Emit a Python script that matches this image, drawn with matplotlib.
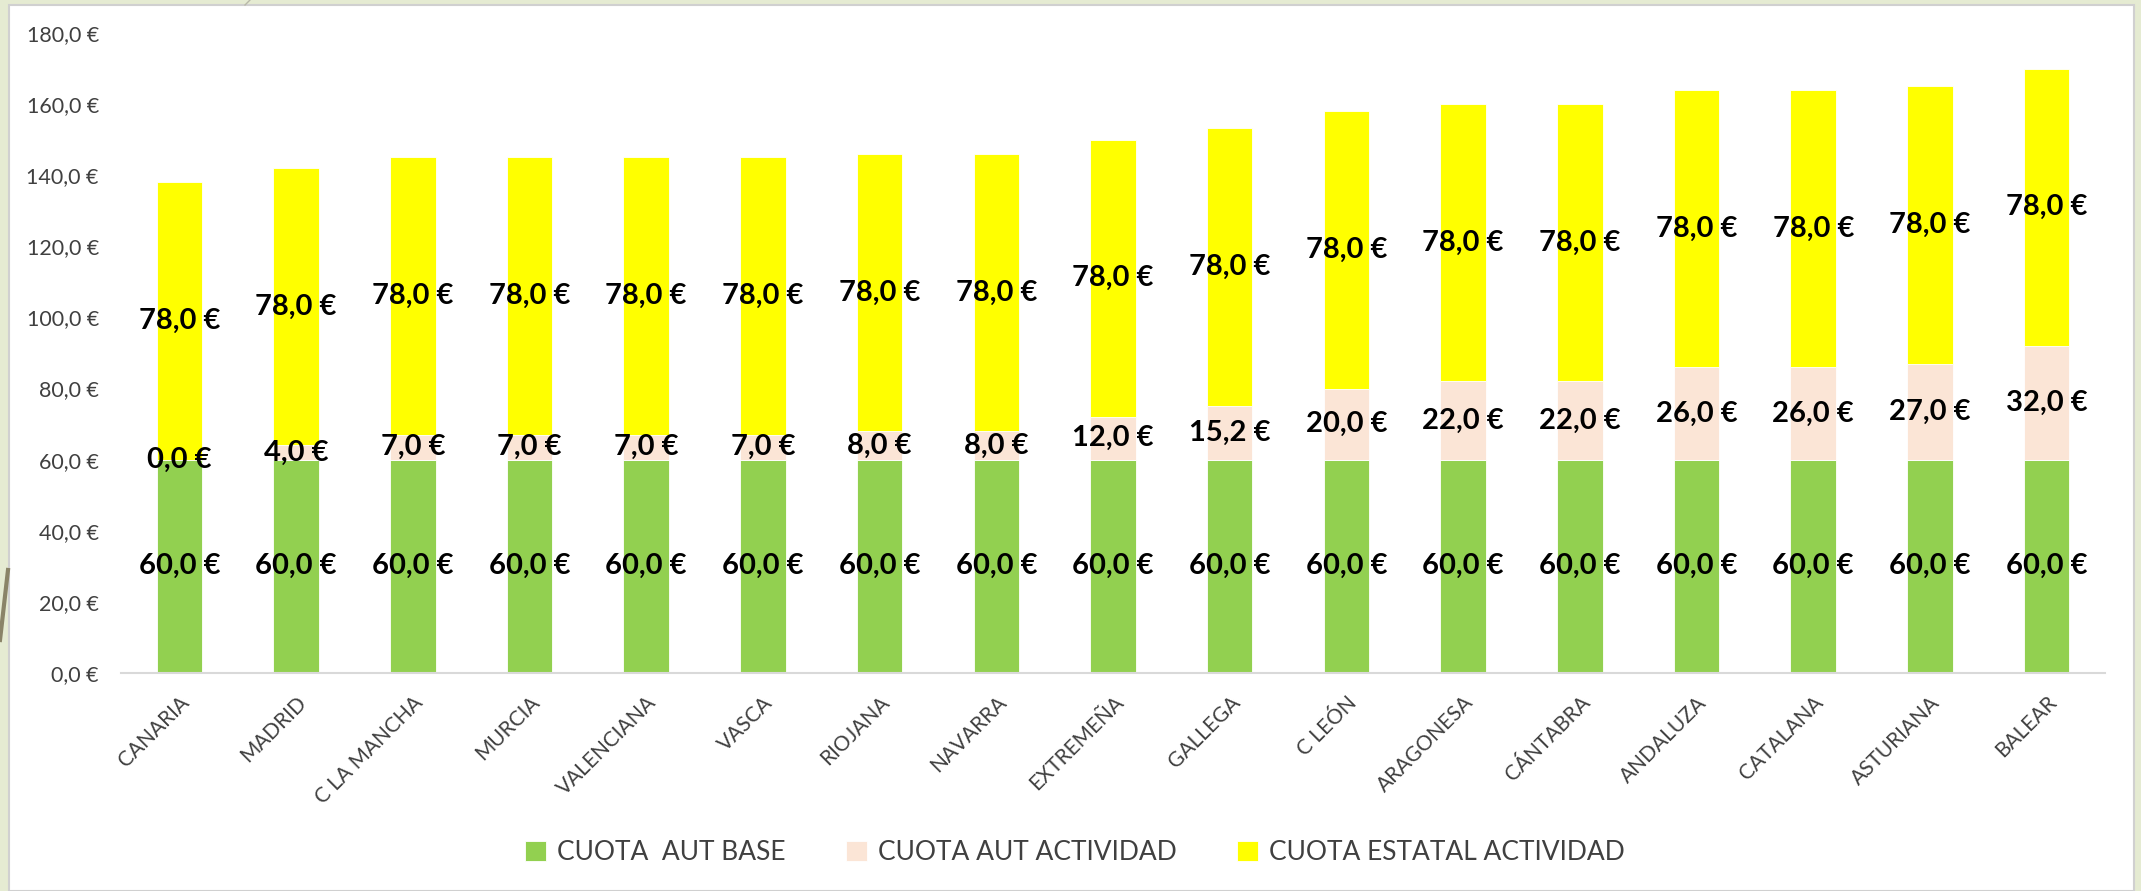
import numpy as np
import matplotlib.pyplot as plt
from matplotlib.patches import Rectangle
from matplotlib.lines import Line2D

regiones = ["CANARIA", "MADRID", "C LA MANCHA", "MURCIA", "VALENCIANA", "VASCA",
            "RIOJANA", "NAVARRA", "EXTREMEÑA", "GALLEGA", "C LEÓN", "ARAGONESA",
            "CÁNTABRA", "ANDALUZA", "CATALANA", "ASTURIANA", "BALEAR"]
cuota_aut_base = [60, 60, 60, 60, 60, 60, 60, 60, 60, 60, 60, 60, 60, 60, 60, 60, 60]
cuota_aut_actividad = [0, 4, 7, 7, 7, 7, 8, 8, 12, 15.2, 20, 22, 22, 26, 26, 27, 32]
cuota_estatal_actividad = [78, 78, 78, 78, 78, 78, 78, 78, 78, 78, 78, 78, 78, 78, 78, 78, 78]

series = [("CUOTA  AUT BASE", cuota_aut_base, "#92d050"),
          ("CUOTA AUT ACTIVIDAD", cuota_aut_actividad, "#fbe5d6"),
          ("CUOTA ESTATAL ACTIVIDAD", cuota_estatal_actividad, "#ffff00")]

plt.rcParams['font.family'] = ['Lato', 'DejaVu Sans']

def euro(v):
    return f"{v:.1f}".replace(".", ",") + " €"

fig = plt.figure(figsize=(21.41, 8.91), dpi=100, facecolor="#e5ebd2")

# white chart panel (behind the axes)
fig.patches.append(Rectangle((9 / 2141, 0), 2125 / 2141, 1 - 5 / 891,
                             transform=fig.transFigure, facecolor="white",
                             edgecolor="#d0d0d0", linewidth=1.5, zorder=-10))
# little decorative strokes of the slide background
fig.lines.append(Line2D([0, 8 / 2141], [1 - 640 / 891, 1 - 570 / 891],
                        transform=fig.transFigure, color="#8a8468", linewidth=3, zorder=-5))
fig.lines.append(Line2D([245 / 2141, 250 / 2141], [1 - 5 / 891, 1.0],
                        transform=fig.transFigure, color="#b8b8a8", linewidth=1, zorder=-5))

ax = fig.add_axes([121 / 2141, 1 - 673 / 891, 1984 / 2141, 640 / 891])
ax.set_facecolor("none")

x = np.arange(len(regiones))
bottom = np.zeros(len(regiones))
for name, vals, col in series:
    vals = np.array(vals, dtype=float)
    ax.bar(x, vals, 0.39, bottom=bottom, color=col, label=name,
           edgecolor="white", linewidth=0.6)
    for xi, b, v in zip(x, bottom, vals):
        ax.text(xi, b + v / 2, euro(v), ha="center", va="center",
                fontsize=21, fontweight="bold", color="black")
    bottom += vals

ax.set_xlim(-0.5, len(regiones) - 0.5)
ax.set_ylim(0, 180)
ax.set_yticks(np.arange(0, 181, 20))
ax.set_yticklabels([euro(v) for v in np.arange(0, 181, 20)])
ax.set_xticks(x)
ax.set_xticklabels(regiones, rotation=45, ha="right", rotation_mode="anchor")
ax.tick_params(axis="both", length=0, labelcolor="#404040")
ax.tick_params(axis="x", pad=14, labelsize=15)
ax.tick_params(axis="y", pad=16, labelsize=15.5)
for s in ["top", "right", "left"]:
    ax.spines[s].set_visible(False)
ax.spines["bottom"].set_color("#d9d9d9")
ax.spines["bottom"].set_linewidth(1.5)

fig.legend(loc="center", bbox_to_anchor=(1075 / 2141, 1 - 853 / 891), ncol=3,
           frameon=False, fontsize=19, labelcolor="#404040",
           handlelength=0.8, handleheight=0.8, handletextpad=0.4, columnspacing=2.3)

fig.savefig("out.png", dpi=100, facecolor=fig.get_facecolor())
